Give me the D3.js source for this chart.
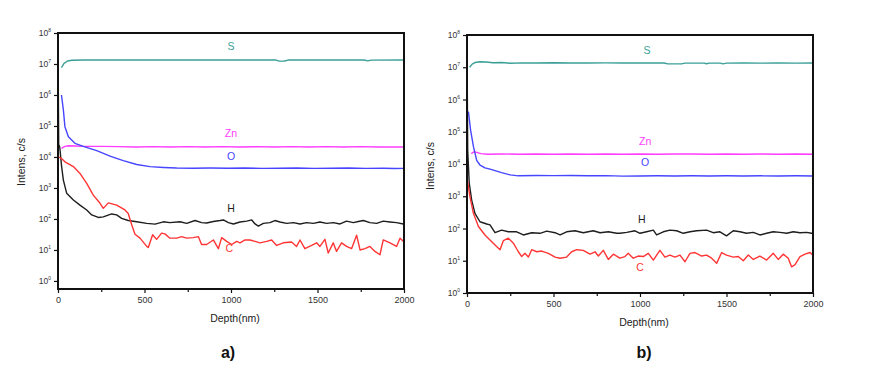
<!DOCTYPE html>
<html>
<head>
<meta charset="UTF-8">
<title>Depth profiles</title>
<script src="https://cdn.jsdelivr.net/npm/d3@7"></script>
<style>
    body { margin: 0; background: #fff; }
    svg { display: block; font-family: "Liberation Sans", Arial, sans-serif; }
    .tick text { fill: #333; }
    .tick line { stroke: #111; stroke-width: 1.2; }
</style>
</head>
<body>
<script>
// depth (nm), intensity (c/s) - panel a)
const sA = [[20,7.7e6],[35,1.05e7],[55,1.25e7],[80,1.32e7],[150,1.35e7],[300,1.35e7],[500,1.34e7],[700,1.35e7],[900,1.35e7],[1100,1.35e7],[1260,1.34e7],[1280,1.24e7],[1310,1.25e7],[1330,1.34e7],[1500,1.35e7],[1650,1.34e7],[1770,1.34e7],[1790,1.26e7],[1810,1.33e7],[2000,1.34e7]];
const znA = [[20,1.9e4],[40,2.2e4],[60,2.3e4],[100,2.25e4],[150,2.2e4],[250,2.2e4],[350,2.15e4],[450,2.1e4],[550,2.15e4],[650,2.1e4],[750,2.15e4],[850,2.1e4],[950,2.15e4],[1050,2.1e4],[1150,2.15e4],[1250,2.1e4],[1350,2.15e4],[1450,2.1e4],[1550,2.15e4],[1650,2.1e4],[1750,2.15e4],[1850,2.1e4],[1950,2.1e4],[2000,2.1e4]];
const oA = [[20,1e6],[31,3.3e5],[40,9.5e4],[60,4.5e4],[98,2.75e4],[146,2.2e4],[224,1.6e4],[301,1.07e4],[377,7600],[455,5700],[532,4900],[610,4600],[686,4400],[780,4350],[880,4400],[980,4350],[1080,4400],[1180,4300],[1280,4350],[1380,4400],[1480,4300],[1580,4350],[1680,4400],[1780,4300],[1880,4350],[1950,4250],[2000,4300]];
const hA = [[0,5e7],[4,2.5e4],[10,2.1e4],[21,4900],[31,1800],[50,680],[89,410],[127,280],[166,195],[195,135],[233,112],[262,117],[310,145],[339,135],[368,105],[406,89],[455,81],[513,72],[561,68],[609,81],[647,76],[705,81],[744,72],[792,89],[830,76],[859,74],[898,83],[937,89],[956,93],[985,76],[1014,69],[1052,80],[1091,85],[1120,93],[1139,69],[1158,59],[1187,72],[1225,76],[1254,89],[1283,80],[1322,72],[1360,76],[1399,69],[1437,76],[1476,72],[1514,80],[1553,72],[1591,76],[1630,69],[1668,85],[1707,76],[1736,83],[1765,89],[1803,76],[1842,72],[1880,85],[1919,80],[1957,76],[1996,69]];
const cA = [[0,1e4],[20,9000],[40,7000],[89,4900],[127,2950],[166,1400],[204,590],[243,320],[262,220],[291,330],[339,280],[387,195],[406,150],[426,65],[445,32],[474,24],[513,13],[522,12],[547,31],[570,22],[599,35],[618,33],[647,24],[686,24],[715,27],[744,24],[782,25],[811,27],[830,15],[859,15],[898,21],[927,11],[946,25],[975,19],[1004,15],[1033,19],[1052,17],[1081,21],[1110,21],[1139,19],[1168,17],[1206,19],[1235,21],[1264,14],[1302,17],[1350,18],[1379,13],[1399,21],[1427,11],[1466,14],[1495,17],[1514,13],[1543,22],[1562,8],[1591,17],[1610,9],[1639,17],[1668,13],[1697,11],[1726,30],[1746,10],[1774,11],[1803,13],[1832,9],[1861,7],[1880,21],[1919,17],[1957,13],[1977,24],[1996,19]];

// panel b)
const sB = [[15,1.0e7],[30,1.25e7],[46,1.4e7],[75,1.48e7],[110,1.45e7],[150,1.38e7],[200,1.4e7],[250,1.33e7],[320,1.37e7],[400,1.35e7],[500,1.38e7],[600,1.35e7],[700,1.36e7],[800,1.37e7],[900,1.35e7],[1000,1.36e7],[1140,1.35e7],[1160,1.27e7],[1240,1.27e7],[1260,1.34e7],[1370,1.34e7],[1385,1.28e7],[1400,1.34e7],[1465,1.34e7],[1480,1.27e7],[1500,1.34e7],[1600,1.35e7],[1700,1.34e7],[1800,1.35e7],[1900,1.34e7],[2000,1.35e7]];
const znB = [[25,2.1e4],[40,2.4e4],[56,2.3e4],[80,2.1e4],[120,2.0e4],[200,2.05e4],[300,2.0e4],[400,2.05e4],[500,2.0e4],[600,2.05e4],[700,2.0e4],[800,2.05e4],[900,2.0e4],[1000,2.05e4],[1100,2.0e4],[1200,2.05e4],[1300,2.05e4],[1400,2.0e4],[1500,2.05e4],[1600,2.0e4],[1700,2.05e4],[1800,2.0e4],[1900,2.05e4],[2000,2.0e4]];
const oB = [[8,4.2e5],[21,1.1e5],[37,3.5e4],[56,1.3e4],[75,9300],[104,7600],[133,6900],[162,6200],[200,5400],[249,4600],[297,4300],[400,4400],[500,4350],[600,4400],[700,4300],[800,4350],[900,4200],[1000,4250],[1100,4300],[1200,4250],[1300,4300],[1400,4250],[1500,4300],[1600,4250],[1700,4300],[1800,4250],[1900,4300],[2000,4250]];
const hB = [[0,5e7],[4,2.7e4],[13,2500],[27,760],[46,295],[75,162],[114,138],[133,129],[162,74],[200,89],[239,79],[287,79],[326,63],[374,74],[422,71],[461,83],[509,74],[538,63],[576,79],[624,85],[672,74],[730,85],[769,74],[817,79],[865,71],[884,71],[923,76],[971,85],[1000,71],[1038,79],[1077,89],[1096,63],[1135,79],[1173,89],[1212,85],[1250,71],[1289,79],[1328,85],[1385,89],[1423,74],[1462,79],[1500,59],[1539,85],[1578,79],[1616,71],[1655,76],[1693,63],[1732,71],[1770,79],[1809,76],[1848,71],[1886,79],[1925,74],[1963,76],[1992,71],[2000,72]];
const cB = [[2,3200],[17,980],[37,295],[66,115],[104,63],[143,39],[162,31],[191,22],[210,42],[239,50],[268,35],[297,19],[316,13.5],[335,17],[355,13],[374,22],[403,19],[432,20],[470,17],[509,13],[538,12],[576,13],[605,19],[634,22],[672,21],[711,16],[740,19],[759,14],[788,21],[817,11],[846,16],[884,12],[913,13.5],[932,17],[961,12],[990,14],[1019,13.5],[1048,17],[1077,10.5],[1115,21],[1144,13],[1173,15],[1202,13],[1231,15],[1260,9.3],[1289,17],[1318,18],[1356,14],[1385,15],[1414,12],[1443,8.3],[1472,18],[1500,15],[1539,13],[1568,13.5],[1597,10],[1626,15],[1655,11],[1693,14],[1732,10.5],[1770,17],[1799,11],[1828,16],[1857,12],[1876,6.5],[1895,7.4],[1925,13.5],[1954,16],[1983,18],[1998,15]];

const elements = ["S", "Zn", "O", "H", "C"];
const colors = {S: "#3a9f97", Zn: "#ff3cff", O: "#4646ff", H: "#1e1e1e", C: "#ff3535"};
const xMajor = [0, 500, 1000, 1500, 2000];
const xMinor = [250, 750, 1250, 1750];
const decades = [0, 1, 2, 3, 4, 5, 6, 7, 8];

// label anchors: [depth, intensity]
const labelsA = {S: [1000, 2.8e7], Zn: [1000, 4.5e4], O: [1000, 8e3], H: [1000, 1.7e2], C: [990, 8.7]};
const labelsB = {S: [1040, 2.6e7], Zn: [1030, 3.9e4], O: [1030, 8.7e3], H: [1010, 1.5e2], C: [1000, 4.8]};

const svg = d3.select("body").append("svg")
    .attr("width", 887)
    .attr("height", 371);

function drawPanel(p) {
    const x = d3.scaleLinear().domain([0, 2000]).range([p.left, p.right]);
    const y = d3.scaleLog().domain([p.yMin, 1e8]).range([p.bottom, p.top]);
    const g = svg.append("g");

    const line = d3.line()
        .x(d => x(d[0]))
        .y(d => y(d[1]));

    elements.forEach(function (el) {
        g.append("path")
            .datum(p.series[el])
            .attr("fill", "none")
            .attr("stroke", colors[el])
            .attr("stroke-width", 1.4)
            .attr("stroke-linejoin", "round")
            .attr("d", line);

        const lab = p.labels[el];
        g.append("text")
            .attr("x", x(lab[0]))
            .attr("y", y(lab[1]))
            .attr("text-anchor", "middle")
            .attr("font-size", 10.5)
            .attr("fill", colors[el])
            .text(el);
    });

    // frame
    g.append("rect")
        .attr("x", p.left)
        .attr("y", p.top)
        .attr("width", p.right - p.left)
        .attr("height", p.bottom - p.top)
        .attr("fill", "none")
        .attr("stroke", "#111")
        .attr("stroke-width", 2);

    // y axis
    const yAxis = g.append("g")
        .attr("transform", "translate(" + p.left + ",0)")
        .call(d3.axisLeft(y).tickValues(decades.map(e => Math.pow(10, e))).tickSize(4).tickPadding(3));
    yAxis.select(".domain").remove();
    yAxis.selectAll(".tick text")
        .attr("font-size", 8.5)
        .text(null)
        .each(function (d) {
            const t = d3.select(this);
            t.append("tspan").text("10");
            t.append("tspan")
                .attr("font-size", 5)
                .attr("dy", -4)
                .text(Math.round(Math.log10(d)));
        });

    // x axis
    const xAxis = g.append("g")
        .attr("transform", "translate(0," + p.bottom + ")")
        .call(d3.axisBottom(x).tickValues(xMajor).tickSize(4).tickPadding(4).tickFormat(d3.format("d")));
    xAxis.select(".domain").remove();
    xAxis.selectAll(".tick text").attr("font-size", 9);

    const xMinorAxis = g.append("g")
        .attr("transform", "translate(0," + p.bottom + ")")
        .call(d3.axisBottom(x).tickValues(xMinor).tickSize(3).tickFormat(""));
    xMinorAxis.select(".domain").remove();

    // titles
    g.append("text")
        .attr("x", (p.left + p.right) / 2 + 4)
        .attr("y", p.bottom + 33)
        .attr("text-anchor", "middle")
        .attr("font-size", 10.5)
        .attr("fill", "#222")
        .text("Depth(nm)");

    g.append("text")
        .attr("transform", "translate(" + p.yTitleX + "," + p.yTitleY + ") rotate(-90)")
        .attr("text-anchor", "middle")
        .attr("font-size", 10.5)
        .attr("fill", "#222")
        .text("Intens, c/s");

    g.append("text")
        .attr("x", p.letterX)
        .attr("y", 358)
        .attr("text-anchor", "middle")
        .attr("font-size", 16)
        .attr("font-weight", "bold")
        .attr("fill", "#111")
        .text(p.letter);
}

drawPanel({
    left: 58, right: 404, top: 33, bottom: 289, yMin: 0.55,
    series: {S: sA, Zn: znA, O: oA, H: hA, C: cA},
    labels: labelsA,
    yTitleX: 25, yTitleY: 162,
    letter: "a)", letterX: 228
});

drawPanel({
    left: 467, right: 813, top: 35, bottom: 293, yMin: 1,
    series: {S: sB, Zn: znB, O: oB, H: hB, C: cB},
    labels: labelsB,
    yTitleX: 434, yTitleY: 166,
    letter: "b)", letterX: 644
});
</script>
</body>
</html>
